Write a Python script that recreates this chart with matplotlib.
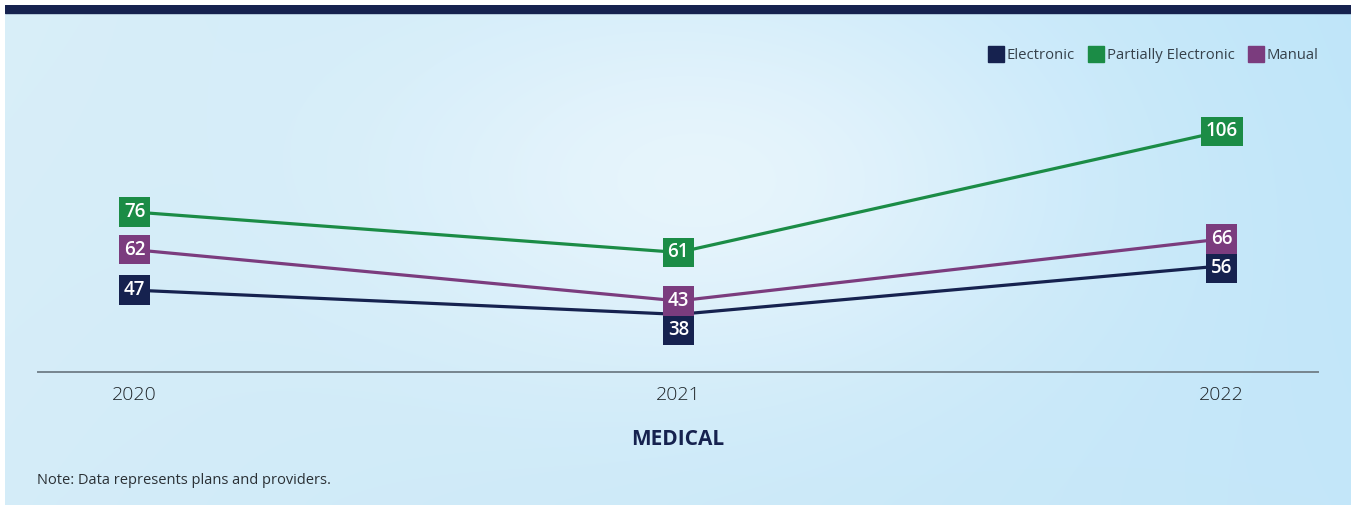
import numpy as np
import matplotlib.pyplot as plt
from matplotlib.lines import Line2D

# ---------------------------------------------------------------------
# Data
years = ["2020", "2021", "2022"]
electronic = [47, 38, 56]
partially_electronic = [76, 61, 106]
manual = [62, 43, 66]

series_names = ["Electronic", "Partially Electronic", "Manual"]
NAVY = "#16224f"
GREEN = "#1b8c46"
PURPLE = "#7b3c7e"

plt.rcParams["font.family"] = ["Open Sans", "DejaVu Sans"]

W, H = 1351, 505
fig = plt.figure(figsize=(W / 100, H / 100), dpi=100)
fig.patch.set_facecolor("white")

# ---------------------------------------------------------------------
# Background gradient (sky-like)
bg = fig.add_axes([5 / W, 0, 1 - 5 / W, 1 - 5 / H])
ny, nx = 120, 300
yy, xx = np.mgrid[0:1:ny * 1j, 0:1:nx * 1j]
c_left = np.array([0.85, 0.935, 0.975])
c_mid = np.array([0.93, 0.97, 0.99])
c_right = np.array([0.75, 0.90, 0.98])
c_bot = np.array([0.80, 0.91, 0.97])
glow = 0.8 * np.exp(-((xx - 0.52) / 0.25) ** 2) * np.exp(-((yy - 0.35) / 0.4) ** 2)
base = c_left[None, None, :] * (1 - xx[..., None]) + c_right[None, None, :] * xx[..., None]
base = base * (1 - 0.35 * yy[..., None]) + c_bot[None, None, :] * 0.35 * yy[..., None]
img = base * (1 - glow[..., None]) + c_mid[None, None, :] * glow[..., None]
bg.imshow(np.clip(img, 0, 1), aspect="auto", extent=[0, 1, 0, 1], origin="upper",
          interpolation="bicubic")
bg.axhspan(1 - 8 / 500, 1, color=NAVY)
bg.set_xlim(0, 1)
bg.set_ylim(0, 1)
bg.axis("off")

# ---------------------------------------------------------------------
# Main axes
ax = fig.add_axes([38 / W, 1 - 372 / H, 1280 / W, (372 - 40) / H])
ax.patch.set_alpha(0)
x = np.arange(len(years))
ax.set_xlim(-0.178, 2.177)
ax.set_ylim(16.6, 139.9)

all_series = [(electronic, NAVY), (manual, PURPLE), (partially_electronic, GREEN)]
for vals, col in all_series:
    ax.plot(x, vals, color=col, lw=2.3, solid_capstyle="butt", zorder=2)

# value labels, nudged apart (in pixels) when two at one year would collide
MIN_GAP = 29
for xi in x:
    items = sorted([(vals[xi], col) for vals, col in all_series])
    ypix = [ax.transData.transform((xi, v))[1] for v, _ in items]
    shift = [0.0] * len(items)
    for i in range(len(items) - 2, -1, -1):
        gap = (ypix[i + 1] + shift[i + 1]) - (ypix[i] + shift[i])
        if gap < MIN_GAP:
            shift[i] -= MIN_GAP - gap
    for (v, col), s in zip(items, shift):
        ax.annotate(str(v), (xi, v), xytext=(0, s * 72 / fig.dpi), textcoords="offset points",
                    ha="center", va="center", color="white", fontsize=13.5,
                    fontweight="semibold", zorder=3,
                    bbox=dict(boxstyle="square,pad=0.25", fc=col, ec="none"))

for s in ["top", "right", "left"]:
    ax.spines[s].set_visible(False)
ax.spines["bottom"].set_color("#76858f")
ax.spines["bottom"].set_linewidth(1.4)
ax.set_yticks([])
ax.set_xticks(x)
ax.set_xticklabels(years, fontsize=14, color="#1f2529", fontweight="light")
ax.tick_params(axis="x", length=0, pad=10)
ax.set_xlabel("MEDICAL", fontsize=15, fontweight="bold", color=NAVY, labelpad=18)

# Legend
handles = [Line2D([], [], marker="s", ls="none", markersize=11, color=c)
           for c in [NAVY, GREEN, PURPLE]]
fig.legend(handles, series_names, loc="upper right", bbox_to_anchor=(1332 / W, 1 - 35 / H),
           ncol=3, frameon=False, fontsize=10.7, handlelength=0.9, handletextpad=0.3,
           columnspacing=0.95, labelcolor="#36414b")

# Note
fig.text(37 / W, 1 - 480 / H, "Note: Data represents plans and providers.",
         fontsize=10.5, color="#2a3035", va="center", ha="left")

plt.savefig("out.png", dpi=100)
